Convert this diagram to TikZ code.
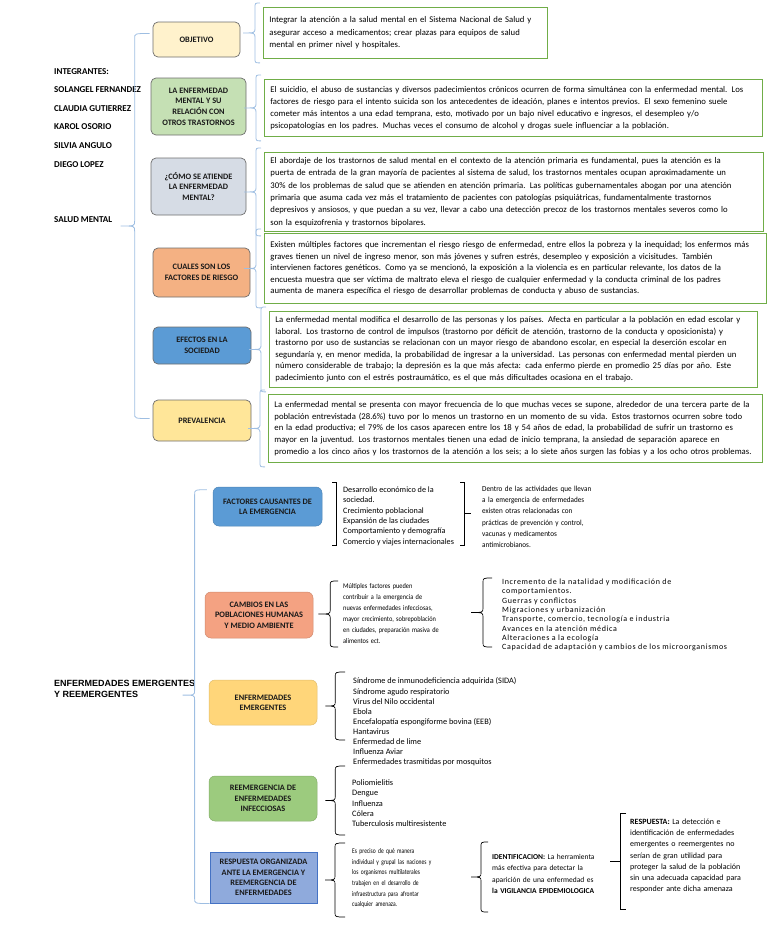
\documentclass[tikz,border=0pt]{standalone}
\usepackage{fontspec}
\setmainfont{Carlito}
\newfontfamily\arialfont{Liberation Sans}
\newfontfamily\spacedfont[LetterSpace=8]{Carlito}
\newfontfamily\narrowfont[FakeStretch=0.77]{Carlito}
\newfontfamily\semifont[FakeStretch=0.88]{Carlito}
\newfontfamily\slightfont[FakeStretch=0.93]{Carlito}
\usetikzlibrary{calc}
\definecolor{bracecol}{RGB}{158,190,226}
\definecolor{labborder}{RGB}{110,110,110}
\definecolor{txtgreen}{RGB}{112,173,71}
\definecolor{objfill}{RGB}{255,242,204}
\definecolor{relfill}{RGB}{197,224,180}
\definecolor{comofill}{RGB}{214,220,229}
\definecolor{cualfill}{RGB}{244,177,131}
\definecolor{efefill}{RGB}{91,155,213}
\definecolor{prevfill}{RGB}{255,230,153}
\definecolor{facfill}{RGB}{91,155,213}
\definecolor{cambfill}{RGB}{244,162,130}
\definecolor{emerfill}{RGB}{255,214,122}
\definecolor{reemfill}{RGB}{156,203,126}
\definecolor{respfill}{RGB}{143,170,220}
\definecolor{respborder}{RGB}{68,114,196}
\newcommand{\ml}[1]{\mbox{#1}\\}
\newcommand{\jl}[1]{\makebox[\linewidth][s]{#1}\\}
% curly brace: ends #2 (top) and #3 (bottom), tip #4, spine at tip x + #5
\newcommand{\cbrace}[5][]{%
  \draw[#1] let \p1=(#2), \p2=(#3), \p3=(#4), \n1={\x3+(#5)} in
   (\x1,\y1) .. controls (\n1,\y1) .. (\n1,\y1-5pt) -- (\n1,\y3+5pt)
   .. controls (\n1,\y3) .. (\x3,\y3) .. controls (\n1,\y3) .. (\n1,\y3-5pt)
   -- (\n1,\y2+5pt) .. controls (\n1,\y2) .. (\x2,\y2);}
% square bracket with a middle tick
\newcommand{\sbrace}[5][]{%
  \draw[#1] let \p1=(#2), \p2=(#3), \p3=(#4), \n1={\x3+(#5)} in
   (\x1,\y1) -- (\n1,\y1) -- (\n1,\y2) -- (\x2,\y2) (\n1,\y3) -- (\x3,\y3);}
\begin{document}
\begin{tikzpicture}[x=1pt,y=-1pt,
  lab/.style={rounded corners=5pt, draw=labborder, line width=0.7pt, align=center,
    inner sep=2pt, text=black!90, font=\bfseries\fontsize{8.3}{10.6}\selectfont},
  blab/.style={rounded corners=6pt, line width=0.5pt, align=center,
    inner sep=2pt, text=black!90, font=\bfseries\fontsize{8.3}{10.4}\selectfont},
  txt/.style={draw=txtgreen, line width=0.9pt, anchor=north west, align=left,
    inner xsep=6pt, inner ysep=2pt},
  ptxt/.style={anchor=north west, inner sep=0pt, align=left},
  lb/.style={draw=bracecol, line width=0.8pt},
  blk/.style={draw=black, line width=0.7pt}]
\useasboundingbox (0,0) rectangle (768,932);

% ---------- SALUD MENTAL ----------
\node[ptxt, font=\bfseries\fontsize{9}{18.6}\selectfont] (integ) at (54,68)
 {INTEGRANTES:\\SOLANGEL FERNANDEZ\\CLAUDIA GUTIERREZ\\KAROL OSORIO\\SILVIA ANGULO\\DIEGO LOPEZ};
\node[ptxt, font=\bfseries\fontsize{9}{11}\selectfont] (salud) at (54,216) {SALUD MENTAL};

\node[lab, fill=objfill, minimum width=87pt, minimum height=35pt] (b1) at (196.5,39.5) {OBJETIVO};
\node[lab, fill=relfill, minimum width=95pt, minimum height=57pt] (b2) at (198.5,106.5)
 {LA ENFERMEDAD\\MENTAL Y SU\\RELACIÓN CON\\OTROS TRASTORNOS};
\node[lab, fill=comofill, minimum width=95pt, minimum height=57pt] (b3) at (198.5,186.5)
 {¿CÓMO SE ATIENDE\\LA ENFERMEDAD\\MENTAL?};
\node[lab, fill=cualfill, minimum width=97pt, minimum height=49pt] (b4) at (201.5,272.5)
 {CUALES SON LOS\\FACTORES DE RIESGO};
\node[lab, fill=efefill, minimum width=98pt, minimum height=37pt] (b5) at (202,345.5)
 {EFECTOS EN LA\\SOCIEDAD};
\node[lab, fill=prevfill, minimum width=98pt, minimum height=41pt] (b6) at (202,420.5)
 {PREVALENCIA};

\node[txt, text width=272pt, minimum height=51pt, font=\fontsize{8.7}{12.3}\selectfont] (t1) at (263,7)
 {\ml{Integrar la atención a la salud mental en el Sistema Nacional de Salud y}\ml{asegurar acceso a medicamentos; crear plazas para equipos de salud}\mbox{mental en primer nivel y hospitales.}};
\node[txt, text width=486pt, minimum height=57pt, font=\fontsize{8.7}{12}\selectfont] (t2) at (264,79)
 {\ml{El suicidio, el abuso de sustancias y diversos padecimientos crónicos ocurren de forma simultánea con la enfermedad mental. Los}\ml{factores de riesgo para el intento suicida son los antecedentes de ideación, planes e intentos previos. El sexo femenino suele}\ml{cometer más intentos a una edad temprana, esto, motivado por un bajo nivel educativo e ingresos, el desempleo y/o}\mbox{psicopatologías en los padres. Muchas veces el consumo de alcohol y drogas suele influenciar a la población.}};
\node[txt, text width=487pt, minimum height=79pt, font=\fontsize{8.7}{12.4}\selectfont] (t3) at (264,152)
 {\ml{El abordaje de los trastornos de salud mental en el contexto de la atención primaria es fundamental, pues la atención es la}\ml{puerta de entrada de la gran mayoría de pacientes al sistema de salud, los trastornos mentales ocupan aproximadamente un}\ml{30\% de los problemas de salud que se atienden en atención primaria. Las políticas gubernamentales abogan por una atención}\ml{primaria que asuma cada vez más el tratamiento de pacientes con patologías psiquiátricas, fundamentalmente trastornos}\ml{depresivos y ansiosos, y que puedan a su vez, llevar a cabo una detección precoz de los trastornos mentales severos como lo}\mbox{son la esquizofrenia y trastornos bipolares.}};
\node[txt, text width=490pt, minimum height=70pt, font=\fontsize{8.7}{11.6}\selectfont] (t4) at (264,233)
 {\ml{Existen múltiples factores que incrementan el riesgo riesgo de enfermedad, entre ellos la pobreza y la inequidad; los enfermos más}\ml{graves tienen un nivel de ingreso menor, son más jóvenes y sufren estrés, desempleo y exposición a vicisitudes. También}\ml{intervienen factores genéticos. Como ya se mencionó, la exposición a la violencia es en particular relevante, los datos de la}\ml{encuesta muestra que ser víctima de maltrato eleva el riesgo de cualquier enfermedad y la conducta criminal de los padres}\mbox{aumenta de manera específica el riesgo de desarrollar problemas de conducta y abuso de sustancias.}};
\node[txt, text width=476pt, minimum height=76pt, font=\fontsize{8.7}{11.5}\selectfont] (t5) at (269,311)
 {\ml{La enfermedad mental modifica el desarrollo de las personas y los países. Afecta en particular a la población en edad escolar y}\ml{laboral. Los trastorno de control de impulsos (trastorno por déficit de atención, trastorno de la conducta y oposicionista) y}\ml{trastorno por uso de sustancias se relacionan con un mayor riesgo de abandono escolar, en especial la deserción escolar en}\ml{segundaría y, en menor medida, la probabilidad de ingresar a la universidad. Las personas con enfermedad mental pierden un}\ml{número considerable de trabajo; la depresión es la que más afecta: cada enfermo pierde en promedio 25 días por año. Este}\mbox{padecimiento junto con el estrés postraumático, es el que más dificultades ocasiona en el trabajo.}};
\node[txt, text width=482pt, minimum height=68pt, font=\fontsize{8.7}{11.7}\selectfont] (t6) at (268,394)
 {\ml{La enfermedad mental se presenta con mayor frecuencia de lo que muchas veces se supone, alrededor de una tercera parte de la}\ml{población entrevistada (28.6\%) tuvo por lo menos un trastorno en un momento de su vida. Estos trastornos ocurren sobre todo}\ml{en la edad productiva; el 79\% de los casos aparecen entre los 18 y 54 años de edad, la probabilidad de sufrir un trastorno es}\ml{mayor en la juventud. Los trastornos mentales tienen una edad de inicio temprana, la ansiedad de separación aparece en}\mbox{promedio a los cinco años y los trastornos de la atención a los seis; a lo siete años surgen las fobias y a los ocho otros problemas.}};

% braces of the upper map
\coordinate (tipS) at ($(b1.west)!0.5!(b6.west)+(-32,-4)$);
\cbrace[lb]{$(b1.west)+(-3,-6)$}{$(b6.west)+(-3,-2)$}{tipS}{14pt}
\foreach \i in {1,...,6}{
  \cbrace[lb]{$(t\i.north west)+(-3,-4)$}{$(t\i.south west)+(-3,4)$}{$(t\i.west)+(-20,0)$}{12pt}
}

% ---------- ENFERMEDADES EMERGENTES ----------
\node[ptxt, font=\arialfont\bfseries\fontsize{9}{11.5}\selectfont] (title2) at (54,679.8)
 {ENFERMEDADES EMERGENTES\\Y REEMERGENTES};

\node[blab, fill=facfill, draw=facfill!85!black, minimum width=109pt, minimum height=39pt] (e1) at (267.5,506.5)
 {FACTORES CAUSANTES DE\\LA EMERGENCIA};
\node[blab, fill=cambfill, draw=cambfill!85!black, minimum width=108pt, minimum height=46pt] (e2) at (259,615)
 {CAMBIOS EN LAS\\POBLACIONES HUMANAS\\Y MEDIO AMBIENTE};
\node[blab, fill=emerfill, draw=emerfill!88!black, minimum width=108pt, minimum height=45pt] (e3) at (263,702.5)
 {ENFERMEDADES\\EMERGENTES};
\node[blab, fill=reemfill, draw=reemfill!85!black, minimum width=108pt, minimum height=45pt] (e4) at (263,798.5)
 {REEMERGENCIA DE\\ENFERMEDADES\\INFECCIOSAS};
\node[blab, rounded corners=0pt, fill=respfill, draw=respborder, line width=1pt, minimum width=107pt, minimum height=51pt] (e5) at (263.5,877.5)
 {RESPUESTA ORGANIZADA\\ANTE LA EMERGENCIA Y\\REEMERGENCIA DE\\ENFERMEDADES};

\node[ptxt, font=\fontsize{8.2}{10.3}\selectfont] (e1a) at (343,486.7)
 {Desarrollo económico de la\\sociedad.\\Crecimiento poblacional\\Expansión de las ciudades\\Comportamiento y demografía\\Comercio y viajes internacionales};
\node[ptxt, text width=106pt, font=\slightfont\fontsize{7.7}{11.2}\selectfont] (e1b) at (482,486)
 {\jl{Dentro de las actividades que llevan}\jl{a la emergencia de enfermedades}\jl{existen otras relacionadas con}\jl{prácticas de prevención y control,}\jl{vacunas y medicamentos}\mbox{antimicrobianos.}};
\node[ptxt, text width=94pt, font=\semifont\fontsize{7.2}{11}\selectfont] (e2a) at (343,583.3)
 {\jl{Múltiples factores pueden}\jl{contribuir a la emergencia de}\jl{nuevas enfermedades infecciosas,}\jl{mayor crecimiento, sobrepoblación}\jl{en ciudades, preparación masiva de}\mbox{alimentos ect.}};
\node[ptxt, font=\spacedfont\fontsize{8}{9.3}\selectfont] (e2b) at (502,578.8)
 {Incremento de la natalidad y modificación de\\comportamientos.\\Guerras y conflictos\\Migraciones y urbanización\\Transporte, comercio, tecnología e industria\\Avances en la atención médica\\Alteraciones a la ecología\\Capacidad de adaptación y cambios de los microorganismos};
\node[ptxt, font=\fontsize{8.3}{10.1}\selectfont] (e3a) at (353,677.7)
 {Síndrome de inmunodeficiencia adquirida (SIDA)\\Síndrome agudo respiratorio\\Virus del Nilo occidental\\Ebola\\Encefalopatía espongiforme bovina (EEB)\\Hantavirus\\Enfermedad de lime\\Influenza Aviar\\Enfermedades trasmitidas por mosquitos};
\node[ptxt, font=\fontsize{8.3}{10.3}\selectfont] (e4a) at (352,779.7)
 {Poliomielitis\\Dengue\\Influenza\\Cólera\\Tuberculosis multiresistente};
\node[ptxt, text width=77pt, font=\narrowfont\fontsize{7.2}{10.6}\selectfont] (e5a) at (352,848.5)
 {\jl{Es preciso de qué manera}\jl{individual y grupal las naciones y}\jl{los organismos multilaterales}\jl{trabajen en el desarrollo de}\jl{infraestructura para afrontar}\mbox{cualquier amenaza.}};
\node[ptxt, text width=106pt, font=\fontsize{7.5}{11.3}\selectfont] (e5b) at (492,854)
 {\jl{\textbf{IDENTIFICACION:} La herramienta}\jl{más efectiva para detectar la}\jl{aparición de una enfermedad es}\mbox{\textbf{la VIGILANCIA EPIDEMIOLOGICA}}};
\node[ptxt, text width=112pt, font=\fontsize{8}{11.2}\selectfont] (e5c) at (630,818.8)
 {\jl{\textbf{RESPUESTA:} La detección e}\jl{identificación de enfermedades}\jl{emergentes o reemergentes no}\jl{serían de gran utilidad para}\jl{proteger la salud de la población}\jl{sin una adecuada capacidad para}\mbox{responder ante dicha amenaza}};

% brace end points of the lower map
\coordinate (tipE) at ($(e1.north west)!0.5!(e5.south west)+(-28.5,0)$);
\coordinate (gAt) at (332,482);  \coordinate (gAb) at (332,545);
\coordinate (gBt) at (460,482);  \coordinate (gBb) at (460,545);  \coordinate (gBtip) at (471,513.5);
\coordinate (gCt) at (338,581);  \coordinate (gCb) at (338,647);
\coordinate (gDt) at (492,578);  \coordinate (gDb) at (492,647);  \coordinate (gDtip) at (471,612.5);
\coordinate (gEt) at (345,672);  \coordinate (gEb) at (345,740);
\coordinate (gFt) at (345,766);  \coordinate (gFb) at (345,835);
\coordinate (gGt) at (345,843);  \coordinate (gGb) at (345,917);
\coordinate (gHt) at (488,842);  \coordinate (gHb) at (488,912);  \coordinate (gHtip) at (471,877);
\coordinate (gIt) at (626,813);  \coordinate (gIb) at (626,909);  \coordinate (gItip) at (610,861);

\cbrace[lb]{$(e1.north west)+(-6,3)$}{e5.south west}{tipE}{12pt}
\draw[blk] (gAt) -- ++(4,0) |- (gAb);
\sbrace[blk]{gBt}{gBb}{gBtip}{-7pt}
\cbrace[blk]{gCt}{gCb}{$(e2.east)+(5,-1)$}{12pt}
\cbrace[blk]{gDt}{gDb}{gDtip}{12pt}
\cbrace[blk]{gEt}{gEb}{$(e3.east)+(8,3.5)$}{10pt}
\cbrace[blk]{gFt}{gFb}{$(e4.east)+(8,2)$}{10pt}
\cbrace[blk]{gGt}{gGb}{$(e5.east)+(7.5,2.5)$}{10pt}
\cbrace[blk]{gHt}{gHb}{gHtip}{10pt}
\sbrace[blk]{gIt}{gIb}{gItip}{10pt}
\end{tikzpicture}
\end{document}
